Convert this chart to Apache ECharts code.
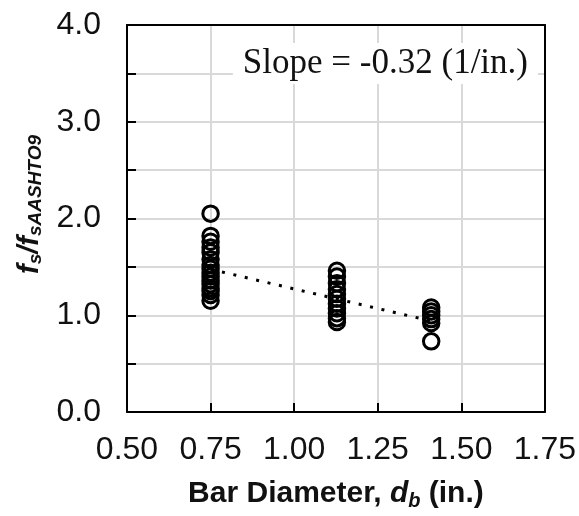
<!DOCTYPE html>
<html>
<head>
<meta charset="utf-8">
<script src="https://cdn.jsdelivr.net/npm/echarts@6/dist/echarts.min.js"></script>
<style>
html,body{margin:0;padding:0;background:#fff;}
#chart{width:579px;height:516px;}
</style>
</head>
<body>
<div id="chart"></div>
<script>
// Bar diameters (in.)
const barDiameters = [0.75, 1.128, 1.41];
// f_s / f_s,AASHTO9 values per bar diameter
const ratios075 = [2.05, 1.82, 1.76, 1.70, 1.65, 1.58, 1.52, 1.48, 1.44, 1.40, 1.36, 1.32, 1.28, 1.25, 1.21, 1.15];
const ratios113 = [1.46, 1.40, 1.33, 1.27, 1.22, 1.17, 1.12, 1.07, 1.02, 0.97, 0.93];
const ratios141 = [1.08, 1.04, 1.00, 0.96, 0.92, 0.73];
// Trend line end points
const trendX = [0.75, 1.41];
const trendY = [1.475, 0.94];
// Axis ticks
const xTicks = [0.50, 0.75, 1.00, 1.25, 1.50, 1.75];
const yTickValues = [0, 1, 2, 3, 4];
const yTickLabels = ['0.0', '1.0', '2.0', '3.0', '4.0'];
const slopeText = 'Slope = -0.32 (1/in.)';

const scatterData = [];
[ratios075, ratios113, ratios141].forEach((arr, i) => {
  arr.forEach(v => scatterData.push([barDiameters[i], v]));
});
const trendData = trendX.map((x, i) => [x, trendY[i]]);

const chart = echarts.init(document.getElementById('chart'), null, {renderer: 'canvas'});
const sans = 'Liberation Sans, Arial, sans-serif';
const frameAxis = {
  axisLine: {show: true, onZero: false, lineStyle: {color: '#000', width: 2}},
  axisTick: {show: false}, axisLabel: {show: false}, splitLine: {show: false}
};
chart.setOption({
  animation: false,
  backgroundColor: '#fff',
  grid: {left: 127, right: 33, top: 25, bottom: 103, containLabel: false},
  xAxis: [{
    type: 'value', min: xTicks[0], max: xTicks[xTicks.length - 1], interval: 0.25,
    axisLine: {onZero: false, lineStyle: {color: '#000', width: 2}},
    axisTick: {inside: true, length: 9, lineStyle: {color: '#000', width: 2}},
    splitLine: {show: true, lineStyle: {color: '#d9d9d9', width: 2}},
    axisLabel: {margin: 22, fontSize: 32, fontFamily: sans, color: '#111',
      formatter: v => { const t = xTicks.find(x => Math.abs(x - v) < 1e-6); return t === undefined ? '' : t.toFixed(2); }},
    name: '{n|Bar Diameter, }{i|d}{s|b}{n| (in.)}',
    nameLocation: 'middle', nameGap: 65,
    nameTextStyle: {
      rich: {
        n: {fontSize: 30, fontWeight: 'bold', fontFamily: sans, color: '#111', lineHeight: 34, verticalAlign: 'middle'},
        i: {fontSize: 30, fontWeight: 'bold', fontStyle: 'italic', fontFamily: sans, color: '#111', lineHeight: 34, verticalAlign: 'middle'},
        s: {fontSize: 20, fontWeight: 'bold', fontStyle: 'italic', fontFamily: sans, color: '#111', lineHeight: 20, verticalAlign: 'bottom'}
      }
    }
  }, Object.assign({type: 'value', position: 'top', min: xTicks[0], max: xTicks[xTicks.length - 1], interval: 0.25}, frameAxis)],
  yAxis: [{
    type: 'value', min: 0, max: 4, interval: 0.5,
    axisLine: {lineStyle: {color: '#000', width: 2}},
    axisTick: {inside: true, length: 9, lineStyle: {color: '#000', width: 2}},
    splitLine: {show: true, lineStyle: {color: '#d9d9d9', width: 2}},
    axisLabel: {margin: 26, fontSize: 32, fontFamily: sans, color: '#111',
      formatter: v => { const k = yTickValues.findIndex(t => Math.abs(t - v) < 1e-6); return k < 0 ? '' : yTickLabels[k]; }},
    name: '{i|f}{s|s}{i|/f}{s|sAASHTO9}',
    nameLocation: 'middle', nameGap: 80, nameRotate: 90,
    nameTextStyle: {
      padding: [0, 0, 0, 28],
      rich: {
        i: {fontSize: 29, fontWeight: 'bold', fontStyle: 'italic', fontFamily: sans, color: '#111', lineHeight: 32, verticalAlign: 'middle'},
        s: {fontSize: 19, fontWeight: 'bold', fontStyle: 'italic', fontFamily: sans, color: '#111', lineHeight: 19, verticalAlign: 'bottom'}
      }
    }
  }, Object.assign({type: 'value', position: 'right', min: 0, max: 4, interval: 0.5}, frameAxis)],
  graphic: [{
    type: 'text', right: 41, top: 43, z: 10,
    style: {text: slopeText, fontSize: 35, fontFamily: 'Liberation Serif, Times New Roman, serif', fill: '#111',
      backgroundColor: '#fff', padding: [3, 10, 3, 10]}
  }],
  series: [
    {
      type: 'line', data: trendData, symbol: 'none', z: 2,
      lineStyle: {color: '#000', width: 3, type: [3, 8.7], cap: 'butt'}
    },
    {
      type: 'scatter', data: scatterData, symbol: 'circle', symbolSize: 15.5, z: 3,
      itemStyle: {color: 'rgba(255,255,255,0)', borderColor: '#000', borderWidth: 3, opacity: 1}
    }
  ]
});
</script>
</body>
</html>
